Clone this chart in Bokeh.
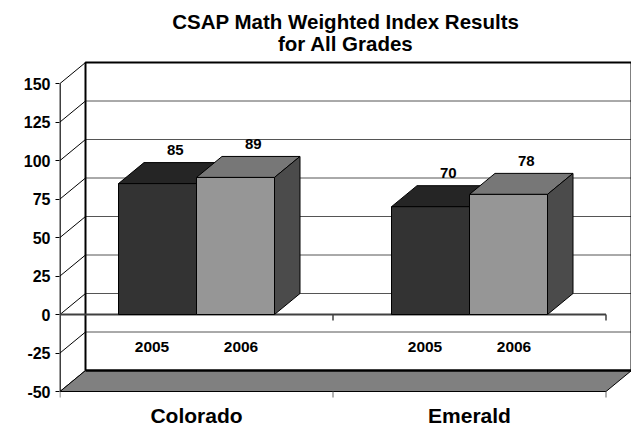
from bokeh.plotting import figure
from bokeh.models import Range1d, FixedTicker
from bokeh.core.properties import value
from bokeh.embed import file_html
from bokeh.resources import INLINE

# ---------------- data ----------------
categories = ["Colorado", "Emerald"]
years = ["2005", "2006"]
values_2005 = [85, 70]
values_2006 = [89, 78]
y_ticks = [-50, -25, 0, 25, 50, 75, 100, 125, 150]
title_lines = ["CSAP Math Weighted Index Results", "for All Grades"]

# ---------------- geometry / style ----------------
PX_X = 273.0          # pixels per category unit
PX_Y = 1.54           # pixels per value unit
DX = 25.5 / PX_X      # 3-D depth offset (x)
DY = 21.0 / PX_Y      # 3-D depth offset (y)
YMIN, YMAX = y_ticks[0], y_ticks[-1]
BAR_W = 78 / PX_X
NCAT = len(categories)

W, H = 631, 427
LEFT = 59
x_start = -0.5 / PX_X
x_end = x_start + (W - LEFT) / PX_X
y_start = YMIN - 36 / PX_Y
y_end = y_start + H / PX_Y

FONT = "Liberation Sans"
series_styles = [
    dict(front="#333333", top="#252525", side="#1c1c1c"),
    dict(front="#969696", top="#777777", side="#4b4b4b"),
]

p = figure(width=W, height=H, x_range=Range1d(x_start, x_end),
           y_range=Range1d(y_start, y_end), output_backend="svg",
           toolbar_location=None, x_axis_location=None, y_axis_location="left",
           min_border_left=LEFT, min_border_right=0, min_border_top=0,
           min_border_bottom=0)
p.grid.visible = False
p.outline_line_color = None
p.background_fill_color = "white"
p.border_fill_color = "white"

# y axis (front value axis)
ax = p.yaxis[0]
ax.ticker = FixedTicker(ticks=y_ticks)
ax.major_label_overrides = {t: str(t) for t in y_ticks}
ax.axis_line_color = None
ax.major_tick_in = 0
ax.major_tick_out = 4
ax.major_tick_line_color = "black"
ax.minor_tick_line_color = None
ax.major_label_standoff = 5
ax.major_label_text_font = FONT
ax.major_label_text_font_style = "bold"
ax.major_label_text_font_size = "16px"
ax.major_label_text_color = "black"

# back wall
p.quad(left=[DX], right=[NCAT + DX], bottom=[YMIN + DY], top=[YMAX + DY],
       fill_color="white", line_color=None)
p.segment(x0=[DX] * len(y_ticks), y0=[t + DY for t in y_ticks],
          x1=[NCAT + DX] * len(y_ticks), y1=[t + DY for t in y_ticks],
          line_color="#555555", line_width=1)
p.line([DX, DX, NCAT + DX, NCAT + DX],
       [YMIN + DY, YMAX + DY, YMAX + DY, YMIN + DY],
       line_color="black", line_width=2)

# side wall diagonals
p.segment(x0=[0] * len(y_ticks), y0=y_ticks, x1=[DX] * len(y_ticks),
          y1=[t + DY for t in y_ticks], line_color="black", line_width=1)
p.segment(x0=[0], y0=[YMIN], x1=[0], y1=[YMAX], line_color="black", line_width=1.5)

# floor
p.patch([0, NCAT, NCAT + DX, DX], [YMIN, YMIN, YMIN + DY, YMIN + DY],
        fill_color="#808080", line_color="black", line_width=1)
p.line([DX, NCAT + DX], [YMIN + DY, YMIN + DY], line_color="black", line_width=2.5)

# category boundary ticks below floor
bounds = list(range(NCAT + 1))
p.segment(x0=bounds, y0=[YMIN] * len(bounds), x1=bounds,
          y1=[YMIN - 6 / PX_Y] * len(bounds), line_color="#666666", line_width=1)

# zero (category) axis line
p.line([0, NCAT], [0, 0], line_color="#404040", line_width=2)
p.segment(x0=bounds[1:], y0=[0] * NCAT, x1=bounds[1:], y1=[-6 / PX_Y] * NCAT,
          line_color="#404040", line_width=1.5)

# bars
all_values = [values_2005, values_2006]
for s, vals in enumerate(all_values):
    st = series_styles[s]
    lefts = [g + 0.5 - BAR_W + s * BAR_W for g in range(NCAT)]
    rights = [l + BAR_W for l in lefts]
    # top faces
    p.patches(xs=[[l, r, r + DX, l + DX] for l, r in zip(lefts, rights)],
              ys=[[v, v, v + DY, v + DY] for v in vals],
              fill_color=st["top"], line_color="black", line_width=1)
    # side faces
    p.patches(xs=[[r, r + DX, r + DX, r] for r in rights],
              ys=[[0, DY, v + DY, v] for v in vals],
              fill_color=st["side"], line_color="black", line_width=1)
    # front faces
    p.quad(left=lefts, right=rights, bottom=[0] * NCAT, top=vals,
           fill_color=st["front"], line_color="black", line_width=1)
    # value labels
    p.text(x=[l + BAR_W / 2 + 0.065 for l in lefts], y=[v + 22 for v in vals],
           text=[str(v) for v in vals], text_font=value(FONT),
           text_font_style="bold", text_font_size="15px", text_color="black",
           text_align="center", text_baseline="middle")

# year labels (inner category level)
yx, yt = [], []
for g in range(NCAT):
    for s, yr in enumerate(years):
        yx.append(g + 0.5 + (s * 2 - 1) * 0.163)
        yt.append(yr)
p.text(x=yx, y=[-32 / PX_Y] * len(yx), text=yt, text_font=value(FONT),
       text_font_style="bold", text_font_size="15.5px", text_color="black",
       text_align="center", text_baseline="middle")

# outer category labels
p.text(x=[g + 0.5 for g in range(NCAT)], y=[YMIN - 24 / PX_Y] * NCAT,
       text=categories, text_font=value(FONT), text_font_style="bold",
       text_font_size="21px", text_color="black", text_align="center",
       text_baseline="middle")

# title
tx = (NCAT + DX) / 2
p.text(x=[tx, tx], y=[YMAX + DY + 41 / PX_Y, YMAX + DY + 19 / PX_Y],
       text=title_lines, text_font=value(FONT), text_font_style="bold",
       text_font_size="20.5px", text_color="black", text_align="center",
       text_baseline="middle")

open("out.html", "w").write(file_html(p, INLINE))
